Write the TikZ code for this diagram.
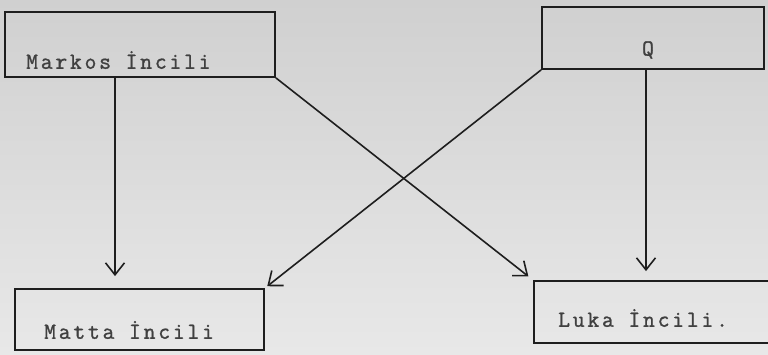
\documentclass[tikz,border=0pt]{standalone}
\usepackage{fontspec}
\newfontfamily\twfont{Latin Modern Mono}[LetterSpace=12, FakeBold=1.2]
\usetikzlibrary{arrows.meta}
\definecolor{ink}{RGB}{30,30,30}
\definecolor{papertop}{RGB}{208,208,208}
\definecolor{paperbot}{RGB}{232,232,232}
\tikzset{
  x=1pt, y=-1pt,
  box/.style={draw=ink, line width=1.8pt, rectangle, inner sep=0pt},
  lbl/.style={font=\twfont\fontsize{23}{23}\selectfont, text=ink!85, inner sep=0pt, anchor=west},
  arr/.style={draw=ink, line width=1.6pt, -{Straight Barb[length=12pt,width=19pt,line width=1.6pt]}}
}
\begin{document}
\begin{tikzpicture}
\useasboundingbox (0,0) rectangle (768,354);
\clip (0,0) rectangle (768,354);
\shade[top color=papertop, bottom color=paperbot] (0,0) rectangle (768,354);
% boxes
\node[box, minimum width=270pt, minimum height=65pt] (markos) at (140,44.5) {};
\node[box, minimum width=222pt, minimum height=62pt] (q) at (653,38) {};
\node[box, minimum width=249pt, minimum height=61pt] (matta) at (139.5,319.5) {};
\node[box, minimum width=250pt, minimum height=62pt] (luka) at (659,312) {};
% labels
\node[lbl] (markosT) at (26,60) {Markos İncili};
\node[lbl, anchor=center] (qT) at (648,50) {Q};
\node[lbl] (mattaT) at (44,330) {Matta İncili};
\node[lbl] (lukaT) at (558,318) {Luka İncili.};
% helper coordinates
\coordinate (mx) at (115,0);
\coordinate (qx) at (646,0);
% connectors
\draw[arr, shorten >=12pt] (markos.south -| mx) -- (matta.north -| mx);
\draw[arr, shorten >=6pt] (markos.south east) -- (luka.north west);
\draw[arr, shorten >=3pt] (q.south west) -- (matta.north east);
\draw[arr, shorten >=9pt] (q.south -| qx) -- (luka.north -| qx);
\end{tikzpicture}
\end{document}
